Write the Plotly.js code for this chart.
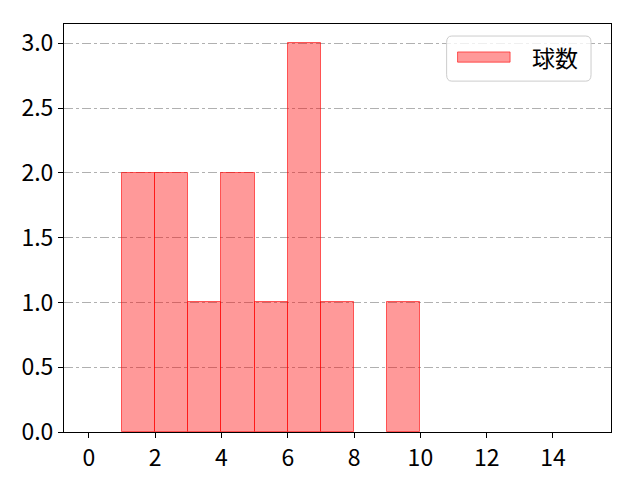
<!DOCTYPE html>
<html>
<head>
<meta charset="utf-8">
<script src="https://cdn.plot.ly/plotly-3.0.1.min.js"></script>
<style>body{margin:0;}</style>
</head>
<body>
<div id="plot" style="width:640px;height:480px;"></div>
<script>
// histogram bins (left edges) and counts
const binStarts = [0, 1, 2, 3, 4, 5, 6, 7, 8, 9, 10, 11, 12, 13, 14];
const counts = [0, 2, 2, 1, 2, 1, 3, 1, 0, 1, 0, 0, 0, 0, 0];
const seriesName = "球数";
const xTicks = [0, 2, 4, 6, 8, 10, 12, 14];
const yTicks = [0, 0.5, 1, 1.5, 2, 2.5, 3];

const font = "Noto Sans CJK JP, sans-serif";
const fill = "rgba(255,0,0,0.4)";
const edge = "rgba(255,0,0,0.6)";

const trace = {
    type: "bar",
    x: binStarts.map(b => b + 0.5),
    y: counts,
    width: 1,
    name: seriesName,
    marker: {
        color: fill,
        // empty bins draw no edge
        line: { color: edge, width: counts.map(c => c > 0 ? 1 : 0) }
    },
    showlegend: false,
    hoverinfo: "x+y"
};

// legend drawn in paper coordinates (matplotlib-style box with wide patch)
const legendShapes = [
    {
        type: "path", xref: "paper", yref: "paper",
        path: "M 0.709,0.9705 L 0.954,0.9705 Q 0.9635,0.9705 0.9635,0.955 L 0.9635,0.8755 Q 0.9635,0.86 0.954,0.86 L 0.709,0.86 Q 0.6995,0.86 0.6995,0.8755 L 0.6995,0.955 Q 0.6995,0.9705 0.709,0.9705 Z",
        fillcolor: "rgba(255,255,255,0.8)",
        line: { color: "#cccccc", width: 1 }
    },
    {
        type: "rect", xref: "paper", yref: "paper",
        x0: 0.7195, x1: 0.8155, y0: 0.9065, y1: 0.9315,
        fillcolor: fill,
        line: { color: edge, width: 1 }
    }
];

const layout = {
    width: 640,
    height: 480,
    margin: { l: 64, r: 29, t: 24, b: 48 },
    paper_bgcolor: "white",
    plot_bgcolor: "white",
    font: { family: font, size: 23, color: "black" },
    bargap: 0,
    xaxis: {
        range: [-0.75, 15.75],
        tickvals: xTicks,
        ticks: "outside",
        ticklen: 5,
        tickcolor: "black",
        showgrid: false,
        zeroline: false,
        showline: true,
        mirror: true,
        linecolor: "black",
        linewidth: 1
    },
    yaxis: {
        range: [0, 3.15],
        tickvals: yTicks,
        tickformat: ".1f",
        ticks: "outside",
        ticklen: 5,
        tickcolor: "black",
        showgrid: true,
        gridcolor: "#b0b0b0",
        griddash: "dashdot",
        gridwidth: 1,
        zeroline: false,
        showline: true,
        mirror: true,
        linecolor: "black",
        linewidth: 1
    },
    shapes: legendShapes,
    annotations: [
        {
            xref: "paper", yref: "paper",
            x: 0.852, y: 0.919,
            xanchor: "left", yanchor: "middle",
            text: seriesName,
            showarrow: false,
            font: { family: font, size: 23, color: "black" }
        }
    ]
};

Plotly.newPlot("plot", [trace], layout, { displayModeBar: false });
</script>
</body>
</html>
